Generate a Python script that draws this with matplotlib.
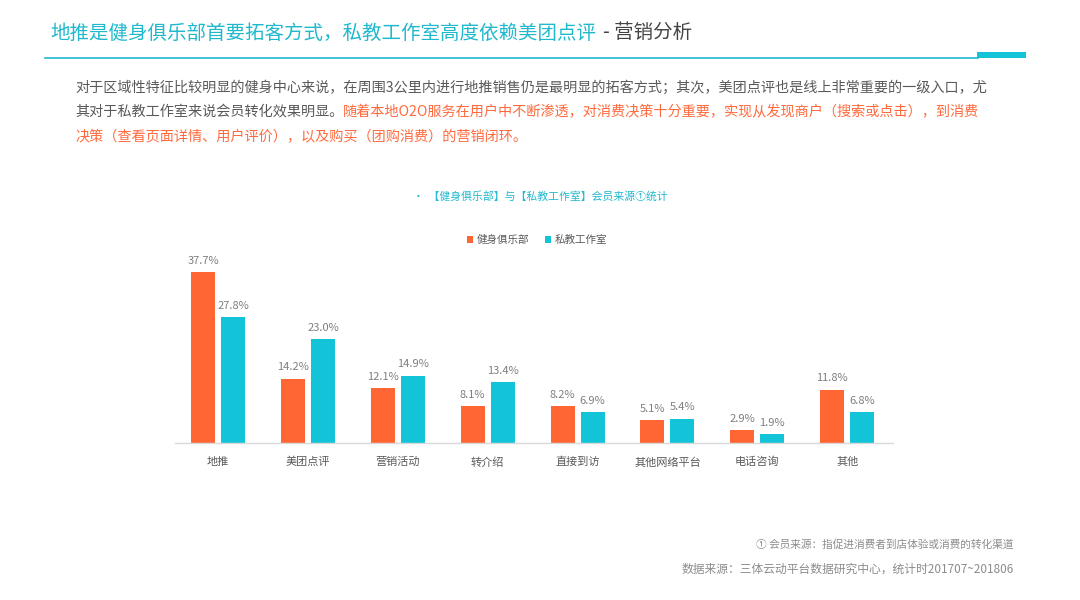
import matplotlib
matplotlib.use("Agg")
import matplotlib.pyplot as plt
import numpy as np

plt.rcParams['font.family'] = ['Noto Sans CJK SC', 'DejaVu Sans']

categories = ["地推", "美团点评", "营销活动", "转介绍", "直接到访", "其他网络平台", "电话咨询", "其他"]
club = [37.7, 14.2, 12.1, 8.1, 8.2, 5.1, 2.9, 11.8]
studio = [27.8, 23.0, 14.9, 13.4, 6.9, 5.4, 1.9, 6.8]
series_names = ["健身俱乐部", "私教工作室"]

ORANGE = "#FF6633"
CYAN = "#13C4D9"
TITLE_CYAN = "#1FB8CD"
GRAY_TXT = "#595959"
LABEL_GRAY = "#7F7F7F"

fig = plt.figure(figsize=(10.8, 6), dpi=100)
W, H = 1080, 600

def fx(x): return x / W
def fy(y): return 1 - y / H

# Header
fig.text(fx(50), fy(33), "地推是健身俱乐部首要拓客方式，私教工作室高度依赖美团点评", color=TITLE_CYAN,
         fontsize=14, va='center', ha='left', fontweight='light')
fig.text(fx(603), fy(33), "- 营销分析", color="#444444", fontsize=14, va='center', ha='left', fontweight='light')
fig.add_artist(plt.Line2D([fx(45), fx(978)], [fy(57.5), fy(57.5)], color=TITLE_CYAN, lw=1.2))
fig.add_artist(plt.Rectangle((fx(977), fy(57.5)), fx(49), 5.5 / H, color="#13C4D9", lw=0))

# Body text
fs_body = 10.2
fig.text(fx(75), fy(88), "对于区域性特征比较明显的健身中心来说，在周围3公里内进行地推销售仍是最明显的拓客方式；其次，美团点评也是线上非常重要的一级入口，尤",
         color=GRAY_TXT, fontsize=fs_body, va='center', ha='left', fontweight='light')
t1 = fig.text(fx(75), fy(112), "其对于私教工作室来说会员转化效果明显。", color=GRAY_TXT, fontsize=fs_body, va='center', ha='left', fontweight='light')
fig.canvas.draw()
bb = t1.get_window_extent()
fig.text(bb.x1 / W, fy(112), "随着本地O2O服务在用户中不断渗透，对消费决策十分重要，实现从发现商户（搜索或点击），到消费",
         color="#FF6A3D", fontsize=fs_body, va='center', ha='left', fontweight='light')
fig.text(fx(75), fy(137), "决策（查看页面详情、用户评价），以及购买（团购消费）的营销闭环。",
         color="#FF6A3D", fontsize=fs_body, va='center', ha='left', fontweight='light')

# Chart title
fig.text(fx(540), fy(196), "•  【健身俱乐部】与【私教工作室】会员来源①统计", color=TITLE_CYAN,
         fontsize=7.8, va='center', ha='center')

# Axes
ax = fig.add_axes([fx(175), fy(443), fx(893 - 175), (443 - 262) / H])
x = np.arange(len(categories))
bw = 0.267
off = 0.167
b1 = ax.bar(x - off, club, bw, color=ORANGE, label=series_names[0], zorder=2)
b2 = ax.bar(x + off, studio, bw, color=CYAN, label=series_names[1], zorder=2)
for rects, vals in ((b1, club), (b2, studio)):
    for r, v in zip(rects, vals):
        ax.annotate(f"{v:.1f}%", (r.get_x() + r.get_width() / 2, v), xytext=(0, 4.5),
                    textcoords='offset points', ha='center', va='bottom',
                    fontsize=8, color=LABEL_GRAY)
ax.set_xlim(-0.48, 7.51)
ax.set_ylim(0, 40)
ax.set_xticks(x)
ax.set_xticklabels(categories, fontsize=8, color="#595959")
ax.tick_params(axis='x', length=0, pad=10)
ax.set_yticks([])
for s in ['top', 'right', 'left']:
    ax.spines[s].set_visible(False)
ax.spines['bottom'].set_color("#D9D9D9")
ax.spines['bottom'].set_linewidth(1)
ax.patch.set_alpha(0)

leg = fig.legend(handles=[b1, b2], labels=series_names, loc='center', bbox_to_anchor=(fx(537), fy(240)),
                 ncol=2, frameon=False, fontsize=7.6, handlelength=0.6, handleheight=0.6,
                 handletextpad=0.3, columnspacing=1.5)
for t in leg.get_texts():
    t.set_color("#595959")

# Footer
fig.text(fx(1013), fy(545), "① 会员来源：指促进消费者到店体验或消费的转化渠道", color="#8C8C8C",
         fontsize=7.7, va='center', ha='right')
fig.text(fx(1014), fy(569), "数据来源：三体云动平台数据研究中心，统计时201707~201806", color="#8C8C8C",
         fontsize=8.5, va='center', ha='right')

fig.savefig("out.png", dpi=100, facecolor='white')
